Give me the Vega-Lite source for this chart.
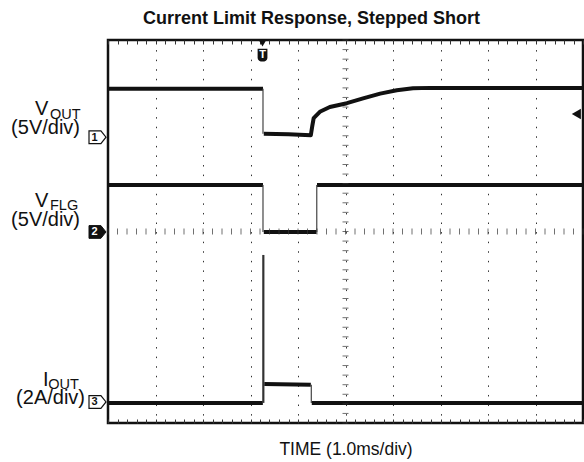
{
  "$schema": "https://vega.github.io/schema/vega-lite/v6.json",
  "width": 475,
  "height": 383,
  "autosize": {"type": "none"},
  "padding": {"left": 108, "top": 40, "right": 1, "bottom": 39},
  "background": "white",
  "config": {"view": {"stroke": "#111", "strokeWidth": 2.5}, "font": "Liberation Sans"},
  "title": {"text": "Current Limit Response, Stepped Short", "font": "Liberation Sans", "fontSize": 18, "fontWeight": "bold", "color": "#111", "anchor": "middle", "frame": "group", "dx": -34, "offset": 11},
  "datasets": {
    "traces": [
      {"seg": "v1a", "t": 0, "y": 6.98}, {"seg": "v1a", "t": 3.263, "y": 6.98},
      {"seg": "v1b", "t": 3.28, "y": 6.04}, {"seg": "v1b", "t": 3.8, "y": 6.03}, {"seg": "v1b", "t": 4.27, "y": 6.01},
      {"seg": "v1b", "t": 4.3, "y": 6.2}, {"seg": "v1b", "t": 4.33, "y": 6.37}, {"seg": "v1b", "t": 4.46, "y": 6.5},
      {"seg": "v1b", "t": 4.67, "y": 6.6}, {"seg": "v1b", "t": 5.03, "y": 6.68}, {"seg": "v1b", "t": 5.37, "y": 6.78},
      {"seg": "v1b", "t": 5.73, "y": 6.88}, {"seg": "v1b", "t": 6.08, "y": 6.95}, {"seg": "v1b", "t": 6.42, "y": 6.99},
      {"seg": "v1b", "t": 6.78, "y": 7.0}, {"seg": "v1b", "t": 10, "y": 7.0},
      {"seg": "v2a", "t": 0, "y": 4.97}, {"seg": "v2a", "t": 3.263, "y": 4.97},
      {"seg": "v2b", "t": 3.28, "y": 3.99}, {"seg": "v2b", "t": 4.39, "y": 3.99},
      {"seg": "v2c", "t": 4.4, "y": 4.97}, {"seg": "v2c", "t": 10, "y": 4.97},
      {"seg": "i3a", "t": 0, "y": 0.42}, {"seg": "i3a", "t": 3.26, "y": 0.42},
      {"seg": "i3b", "t": 3.29, "y": 0.815}, {"seg": "i3b", "t": 4.27, "y": 0.8},
      {"seg": "i3c", "t": 4.29, "y": 0.42}, {"seg": "i3c", "t": 10, "y": 0.42}
    ],
    "edges": [
      {"t": 3.263, "y": 6.98, "y2": 6.04},
      {"t": 3.263, "y": 4.97, "y2": 3.99},
      {"t": 4.395, "y": 3.99, "y2": 4.97},
      {"t": 4.28, "y": 0.8, "y2": 0.42}
    ],
    "spike": [{"t": 3.27, "y": 0.42, "y2": 3.51}],
    "hticks": [
      {"t": 0}, {"t": 0.2}, {"t": 0.4}, {"t": 0.6}, {"t": 0.8}, {"t": 1}, {"t": 1.2}, {"t": 1.4}, {"t": 1.6}, {"t": 1.8},
      {"t": 2}, {"t": 2.2}, {"t": 2.4}, {"t": 2.6}, {"t": 2.8}, {"t": 3}, {"t": 3.2}, {"t": 3.4}, {"t": 3.6}, {"t": 3.8},
      {"t": 4}, {"t": 4.2}, {"t": 4.4}, {"t": 4.6}, {"t": 4.8}, {"t": 5}, {"t": 5.2}, {"t": 5.4}, {"t": 5.6}, {"t": 5.8},
      {"t": 6}, {"t": 6.2}, {"t": 6.4}, {"t": 6.6}, {"t": 6.8}, {"t": 7}, {"t": 7.2}, {"t": 7.4}, {"t": 7.6}, {"t": 7.8},
      {"t": 8}, {"t": 8.2}, {"t": 8.4}, {"t": 8.6}, {"t": 8.8}, {"t": 9}, {"t": 9.2}, {"t": 9.4}, {"t": 9.6}, {"t": 9.8}, {"t": 10}
    ],
    "vticks": [
      {"v": 0}, {"v": 0.2}, {"v": 0.4}, {"v": 0.6}, {"v": 0.8}, {"v": 1}, {"v": 1.2}, {"v": 1.4}, {"v": 1.6}, {"v": 1.8},
      {"v": 2}, {"v": 2.2}, {"v": 2.4}, {"v": 2.6}, {"v": 2.8}, {"v": 3}, {"v": 3.2}, {"v": 3.4}, {"v": 3.6}, {"v": 3.8},
      {"v": 4}, {"v": 4.2}, {"v": 4.4}, {"v": 4.6}, {"v": 4.8}, {"v": 5}, {"v": 5.2}, {"v": 5.4}, {"v": 5.6}, {"v": 5.8},
      {"v": 6}, {"v": 6.2}, {"v": 6.4}, {"v": 6.6}, {"v": 6.8}, {"v": 7}, {"v": 7.2}, {"v": 7.4}, {"v": 7.6}, {"v": 7.8}, {"v": 8}
    ],
    "mainlbl": [
      {"t": -1.537, "y": 6.433, "txt": "V"},
      {"t": -1.537, "y": 4.512, "txt": "V"},
      {"t": -1.368, "y": 0.773, "txt": "I"}
    ],
    "sublbl": [
      {"t": -1.221, "y": 6.36, "txt": "OUT"},
      {"t": -1.221, "y": 4.44, "txt": "FLG"},
      {"t": -1.26, "y": 0.70, "txt": "OUT"}
    ],
    "scalelbl": [
      {"t": -0.589, "y": 6.036, "txt": "(5V/div)"},
      {"t": -0.589, "y": 4.115, "txt": "(5V/div)"},
      {"t": -0.484, "y": 0.397, "txt": "(2A/div)"}
    ],
    "markers": [
      {"ch": "1", "t": -0.221, "y": 5.97},
      {"ch": "2", "t": -0.221, "y": 3.99},
      {"ch": "3", "t": -0.221, "y": 0.44}
    ],
    "trig": [{"t": 3.253, "ytri": 7.94, "yshield": 7.67}],
    "level": [{"t": 9.86, "y": 6.454}]
  },
  "layer": [
    {
      "data": {"name": "traces"},
      "mark": {"type": "line", "color": "#111", "strokeWidth": 4, "strokeJoin": "round"},
      "encoding": {
        "x": {"field": "t", "type": "quantitative", "scale": {"domain": [0, 10], "nice": false, "zero": false},
          "axis": {"orient": "bottom", "values": [0,0.2,0.4,0.6,0.8,1,1.2,1.4,1.6,1.8,2,2.2,2.4,2.6,2.8,3,3.2,3.4,3.6,3.8,4,4.2,4.4,4.6,4.8,5,5.2,5.4,5.6,5.8,6,6.2,6.4,6.6,6.8,7,7.2,7.4,7.6,7.8,8,8.2,8.4,8.6,8.8,9,9.2,9.4,9.6,9.8,10],
            "labels": false, "domain": false, "tickSize": -4, "tickColor": "#333", "tickWidth": 1,
            "grid": true, "gridColor": "#333", "gridWidth": 1, "gridDash": [1.5, 8.08],
            "gridOpacity": {"condition": {"test": "abs(datum.value-round(datum.value))<0.01 && datum.value>0.01 && datum.value<9.99", "value": 1}, "value": 0},
            "title": "TIME (1.0ms/div)", "titleFont": "Liberation Sans", "titleFontSize": 17.5, "titleFontWeight": "normal", "titleColor": "#111", "titleY": 31, "titleBaseline": "alphabetic"}},
        "y": {"field": "y", "type": "quantitative", "scale": {"domain": [0, 8], "nice": false, "zero": false},
          "axis": {"orient": "left", "values": [0,0.2,0.4,0.6,0.8,1,1.2,1.4,1.6,1.8,2,2.2,2.4,2.6,2.8,3,3.2,3.4,3.6,3.8,4,4.2,4.4,4.6,4.8,5,5.2,5.4,5.6,5.8,6,6.2,6.4,6.6,6.8,7,7.2,7.4,7.6,7.8,8],
            "labels": false, "domain": false, "tickSize": -4, "tickColor": "#333", "tickWidth": 1,
            "grid": true, "gridColor": "#333", "gridWidth": 1, "gridDash": [1.5, 8.0],
            "gridOpacity": {"condition": {"test": "abs(datum.value-round(datum.value))<0.01 && datum.value>0.01 && datum.value<7.99", "value": 1}, "value": 0},
            "title": null}},
        "detail": {"field": "seg"}
      }
    },
    {
      "data": {"name": "edges"},
      "mark": {"type": "rule", "color": "#444", "strokeWidth": 1.2},
      "encoding": {
        "x": {"field": "t", "type": "quantitative",
          "axis": {"orient": "top", "values": [0,0.2,0.4,0.6,0.8,1,1.2,1.4,1.6,1.8,2,2.2,2.4,2.6,2.8,3,3.2,3.4,3.6,3.8,4,4.2,4.4,4.6,4.8,5,5.2,5.4,5.6,5.8,6,6.2,6.4,6.6,6.8,7,7.2,7.4,7.6,7.8,8,8.2,8.4,8.6,8.8,9,9.2,9.4,9.6,9.8,10],
            "labels": false, "domain": false, "tickSize": -4, "tickColor": "#333", "tickWidth": 1, "grid": false, "title": null}},
        "y": {"field": "y", "type": "quantitative", "axis": null},
        "y2": {"field": "y2"}
      }
    },
    {
      "data": {"name": "spike"},
      "mark": {"type": "rule", "color": "#333", "strokeWidth": 2.2},
      "encoding": {
        "x": {"field": "t", "type": "quantitative", "axis": null},
        "y": {"field": "y", "type": "quantitative", "axis": null},
        "y2": {"field": "y2"}
      }
    },
    {
      "data": {"name": "hticks"},
      "mark": {"type": "tick", "orient": "vertical", "size": 6, "thickness": 1, "color": "#333"},
      "encoding": {
        "x": {"field": "t", "type": "quantitative", "axis": null},
        "y": {"datum": 4, "type": "quantitative", "axis": null}
      }
    },
    {
      "data": {"name": "vticks"},
      "mark": {"type": "tick", "orient": "horizontal", "size": 6, "thickness": 1, "color": "#333"},
      "encoding": {
        "x": {"datum": 5, "type": "quantitative", "axis": null},
        "y": {"field": "v", "type": "quantitative", "axis": null}
      }
    },
    {
      "data": {"name": "mainlbl"},
      "mark": {"type": "text", "align": "left", "baseline": "alphabetic", "fontSize": 20, "font": "Liberation Sans", "color": "#111"},
      "encoding": {
        "x": {"field": "t", "type": "quantitative", "axis": null},
        "y": {"field": "y", "type": "quantitative", "axis": null},
        "text": {"field": "txt"}
      }
    },
    {
      "data": {"name": "sublbl"},
      "mark": {"type": "text", "align": "left", "baseline": "alphabetic", "fontSize": 14.5, "font": "Liberation Sans", "color": "#111"},
      "encoding": {
        "x": {"field": "t", "type": "quantitative", "axis": null},
        "y": {"field": "y", "type": "quantitative", "axis": null},
        "text": {"field": "txt"}
      }
    },
    {
      "data": {"name": "scalelbl"},
      "mark": {"type": "text", "align": "right", "baseline": "alphabetic", "fontSize": 20, "font": "Liberation Sans", "color": "#111"},
      "encoding": {
        "x": {"field": "t", "type": "quantitative", "axis": null},
        "y": {"field": "y", "type": "quantitative", "axis": null},
        "text": {"field": "txt"}
      }
    },
    {
      "data": {"name": "markers"},
      "transform": [{"filter": "datum.ch !== '2'"}],
      "mark": {"type": "point", "shape": "M-1,-0.75L0.4,-0.75L1,0L0.4,0.75L-1,0.75Z", "size": 289, "filled": true, "fill": "white", "stroke": "#111", "strokeWidth": 1.2, "opacity": 1},
      "encoding": {
        "x": {"field": "t", "type": "quantitative", "axis": null},
        "y": {"field": "y", "type": "quantitative", "axis": null}
      }
    },
    {
      "data": {"name": "markers"},
      "transform": [{"filter": "datum.ch === '2'"}],
      "mark": {"type": "point", "shape": "M-1,-0.75L0.4,-0.75L1,0L0.4,0.75L-1,0.75Z", "size": 289, "filled": true, "fill": "#111", "stroke": "#111", "strokeWidth": 1, "opacity": 1},
      "encoding": {
        "x": {"field": "t", "type": "quantitative", "axis": null},
        "y": {"field": "y", "type": "quantitative", "axis": null}
      }
    },
    {
      "data": {"name": "markers"},
      "mark": {"type": "text", "align": "center", "baseline": "middle", "fontSize": 11, "fontWeight": "bold", "font": "Liberation Sans", "dx": -3, "dy": 0.5},
      "encoding": {
        "x": {"field": "t", "type": "quantitative", "axis": null},
        "y": {"field": "y", "type": "quantitative", "axis": null},
        "text": {"field": "ch"},
        "color": {"condition": {"test": "datum.ch === '2'", "value": "white"}, "value": "#111"}
      }
    },
    {
      "data": {"name": "trig"},
      "mark": {"type": "point", "shape": "triangle-down", "size": 70, "filled": true, "color": "#111", "opacity": 1},
      "encoding": {
        "x": {"field": "t", "type": "quantitative", "axis": null},
        "y": {"field": "ytri", "type": "quantitative", "axis": null}
      }
    },
    {
      "data": {"name": "trig"},
      "mark": {"type": "point", "shape": "M-0.7,-1L0.7,-1L0.7,0.3C0.7,1 -0.7,1 -0.7,0.3Z", "size": 196, "filled": true, "color": "#111", "opacity": 1},
      "encoding": {
        "x": {"field": "t", "type": "quantitative", "axis": null},
        "y": {"field": "yshield", "type": "quantitative", "axis": null}
      }
    },
    {
      "data": {"name": "trig"},
      "mark": {"type": "text", "text": "T", "align": "center", "baseline": "middle", "fontSize": 11, "fontWeight": "bold", "font": "Liberation Sans", "color": "white", "dy": -1},
      "encoding": {
        "x": {"field": "t", "type": "quantitative", "axis": null},
        "y": {"field": "yshield", "type": "quantitative", "axis": null}
      }
    },
    {
      "data": {"name": "level"},
      "mark": {"type": "point", "shape": "triangle-left", "size": 110, "filled": true, "color": "#111", "opacity": 1},
      "encoding": {
        "x": {"field": "t", "type": "quantitative", "axis": null},
        "y": {"field": "y", "type": "quantitative", "axis": null}
      }
    }
  ]
}
